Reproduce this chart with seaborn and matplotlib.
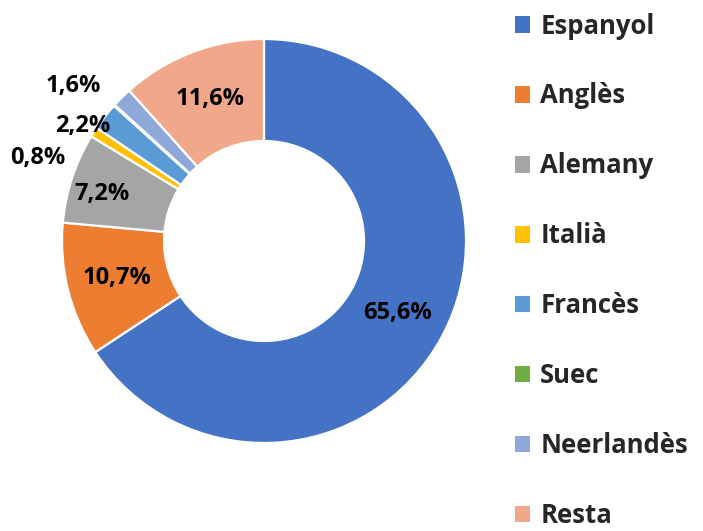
import numpy as np
import matplotlib
matplotlib.use("Agg")
import matplotlib.pyplot as plt
import seaborn as sns
from matplotlib.patches import Patch

# -------------------------
# Data
# -------------------------
languages = ["Espanyol", "Anglès", "Alemany", "Italià", "Francès", "Suec", "Neerlandès", "Resta"]
shares = [65.6, 10.7, 7.2, 0.8, 2.2, 0.1, 1.6, 11.6]
pct_labels = ["65,6%", "10,7%", "7,2%", "0,8%", "2,2%", "", "1,6%", "11,6%"]
colors = ["#4472C4", "#ED7D31", "#A5A5A5", "#FFC000", "#5B9BD5", "#70AD47", "#8FA8DA", "#F1A88A"]

sns.set_theme(style="white")
plt.rcParams["font.family"] = ["Open Sans", "DejaVu Sans"]

fig = plt.figure(figsize=(7.03, 5.31), dpi=100)

# donut: centre ~ (264, 241) px, outer radius ~202 px
W, H = 703, 531
cx, cy, r = 264, 241, 202
ax = fig.add_axes([(cx - r) / W, (H - cy - r) / H, 2 * r / W, 2 * r / H])

wedges, _ = ax.pie(
    shares,
    colors=colors,
    startangle=90,
    counterclock=False,
    radius=1.0,
    wedgeprops=dict(width=0.505, edgecolor="white", linewidth=1.6),
)
ax.set_xlim(-1, 1)
ax.set_ylim(-1, 1)
ax.set_aspect("equal")
ax.axis("off")

# label positions: inside the ring for big slices, Excel-like nudges for small ones
outside = {
    "Italià": (-1.12, 0.41),
    "Francès": (-0.90, 0.57),
    "Neerlandès": (-0.945, 0.765),
}
inside_nudge = {"Alemany": (-0.09, 0.0)}

for w, lang, lab in zip(wedges, languages, pct_labels):
    if not lab:
        continue
    if lang in outside:
        x, y = outside[lang]
    else:
        ang = np.deg2rad((w.theta1 + w.theta2) / 2)
        x, y = 0.75 * np.cos(ang), 0.75 * np.sin(ang)
        dx, dy = inside_nudge.get(lang, (0, 0))
        x, y = x + dx, y + dy
    ax.text(x, y, lab, ha="center", va="center", fontsize=17,
            fontweight="bold", color="black", clip_on=False)

handles = [Patch(facecolor=c, edgecolor="none", label=l) for c, l in zip(colors, languages)]
fig.legend(
    handles=handles,
    loc="upper left",
    bbox_to_anchor=(0.699, 1.02),
    frameon=False,
    handlelength=0.62,
    handleheight=0.62,
    handletextpad=0.38,
    labelspacing=1.67,
    prop=dict(weight="bold", size=18.5),
)

fig.savefig("out.png", dpi=100)
